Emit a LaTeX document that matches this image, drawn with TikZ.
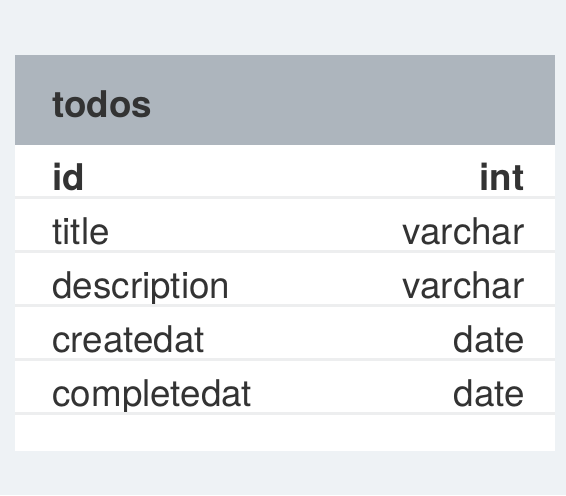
\documentclass[tikz,border=0pt]{standalone}
\usepackage{fontspec}
\setmainfont{TeX Gyre Heros}
\usetikzlibrary{positioning}
\definecolor{pagebg}{HTML}{EEF2F5}
\definecolor{headbg}{HTML}{ADB5BD}
\definecolor{rowline}{HTML}{EDEEEF}
\definecolor{inktext}{HTML}{333333}
\tikzset{
  colname/.style={anchor=base west,inner sep=0pt,text=inktext,
                  font=\fontsize{18.4}{20}\selectfont},
  coltype/.style={colname,anchor=base east},
  keyname/.style={colname,font=\fontsize{18.4}{20}\selectfont\bfseries},
  keytype/.style={coltype,font=\fontsize{18.4}{20}\selectfont\bfseries},
  rowsep/.style={draw=rowline,line width=1.5pt},
}

\begin{document}
\begin{tikzpicture}[x=0.5pt,y=-0.5pt]
  \fill[pagebg] (0,0) rectangle (566,495);
  \useasboundingbox (0,0) rectangle (566,495);
  % table body and header
  \fill[white] (15,145) rectangle (555,451);
  \fill[headbg] (15,55) rectangle (555,145);
  \node[keyname] (tbl) at (52,117) {todos};
  % key row
  \node[keyname] (n0) at (52,190) {id};
  \node[keytype] (t0) at (525,190) {int};
  % other rows
  \foreach \name/\type [count=\i] in {title/varchar,description/varchar,
      createdat/date,completedat/date}{
    \node[colname] (n\i) at (52,190+54*\i) {\name};
    \node[coltype] (t\i) at (525,190+54*\i) {\type};
  }
  % row separators
  \foreach \i in {0,...,4}
    \draw[rowsep] (15,197.5+54*\i) -- (555,197.5+54*\i);
\end{tikzpicture}
\end{document}
